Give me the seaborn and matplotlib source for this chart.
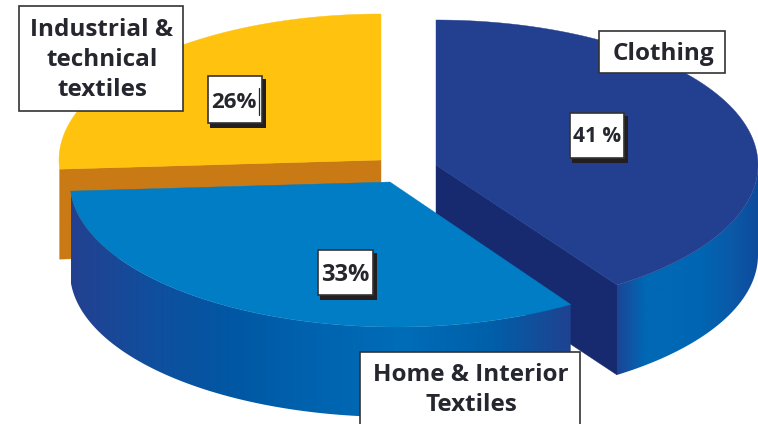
import numpy as np
import matplotlib
matplotlib.use("Agg")
import matplotlib.pyplot as plt
from matplotlib.patches import Polygon, Rectangle
import seaborn as sns

# shares, clockwise from 12 o'clock
categories = ["Clothing", "Home & Interior\nTextiles", "Industrial &\ntechnical\ntextiles"]
shares = [41, 33, 26]
pct_labels = ["41 %", "33%", "26%"]

sns.set_theme(style="white")
plt.rcParams["font.family"] = ["Open Sans", "DejaVu Sans"]

TEXT = "#26262e"
DEPTH = 90

# slice geometry in pixels: apex, ellipse centre, radii
geom = {
    "Clothing": dict(apex=(436, 165), c=(436, 165), rx=322, ry=145),
    "Home": dict(apex=(390, 182), c=(396, 182), rx=326, ry=145),
    "Industrial": dict(apex=(381, 160), c=(381, 160), rx=322, ry=146),
}

edges = np.cumsum([0] + shares) / sum(shares) * 2 * np.pi
# the drawing's perspective pulls the clothing edge back a little
clothing_end = edges[1] - np.radians(1.8)


def rim(g, t0, t1, n=200):
    t = np.linspace(t0, t1, n)
    return np.c_[g["c"][0] + g["rx"] * np.sin(t), g["c"][1] - g["ry"] * np.cos(t)]


def top(ax, g, t0, t1, color, z):
    pts = np.vstack([[g["apex"]], rim(g, t0, t1)])
    ax.add_patch(Polygon(pts, closed=True, fc=color, ec=color, lw=0.3, zorder=z))


def wall(ax, g, t0, t1, colors, z):
    r = rim(g, t0, t1)
    pts = np.vstack([r, (r + [0, DEPTH])[::-1]])
    patch = Polygon(pts, closed=True, fc="none", ec="none", zorder=z)
    ax.add_patch(patch)
    cmap = sns.blend_palette(colors, as_cmap=True)
    im = ax.imshow(np.linspace(0, 1, 256)[None, :], cmap=cmap, aspect="auto", zorder=z,
                   extent=(r[:, 0].min(), r[:, 0].max(), 424, 0), interpolation="bilinear")
    im.set_clip_path(patch)


def face(ax, g, t, color, z):
    p = rim(g, t, t, 1)[0]
    a = g["apex"]
    pts = [a, p, (p[0], p[1] + DEPTH), (a[0], a[1] + DEPTH)]
    ax.add_patch(Polygon(pts, closed=True, fc=color, ec=color, lw=0.3, zorder=z))


fig = plt.figure(figsize=(7.58, 4.24), dpi=100)
ax = fig.add_axes([0, 0, 1, 1])

# Industrial, furthest back
g = geom["Industrial"]
face(ax, g, edges[2], "#c97a15", 1)
top(ax, g, edges[2], edges[3], "#ffc20e", 2)

# Clothing
g = geom["Clothing"]
face(ax, g, clothing_end, "#172a70", 3)
wall(ax, g, np.pi / 2, clothing_end,
     ["#1b4595", "#0068b5", "#0068b5", "#0065b2", "#0a5aa8", "#0f4a9c"], 3)
top(ax, g, edges[0], clothing_end, "#233f8f", 4)

# Home, in front
g = geom["Home"]
wall(ax, g, edges[1], edges[2],
     ["#244090", "#0f4f9e", "#0058a4", "#0064b0", "#006cb8", "#0060aa", "#1f4290"], 5)
top(ax, g, edges[1], edges[2], "#007dc5", 6)


def box(x0, y0, x1, y1, shadow=False):
    if shadow:
        ax.add_patch(Rectangle((x0 + 2, y0 + 3), x1 - x0 + 2, y1 - y0 + 2, fc="#231f20", ec="none", zorder=8))
    ax.add_patch(Rectangle((x0, y0), x1 - x0, y1 - y0, fc="white", ec="#333333", lw=1.2, zorder=9))


# name labels
box(19, 6, 183, 111)
ax.text(102, 60, categories[2], ha="center", va="center", fontsize=17.5, fontweight="bold",
        color=TEXT, linespacing=1.33, zorder=10)
box(599, 31, 725, 73)
ax.text(663, 54, categories[0], ha="center", va="center", fontsize=17.5, fontweight="bold",
        color=TEXT, zorder=10)
box(360, 352, 580, 440)
ax.text(471, 390, categories[1], ha="center", va="center", fontsize=17.5, fontweight="bold",
        color=TEXT, linespacing=1.33, zorder=10)

# percentage labels
box(570, 113, 624, 158, True)
ax.text(597, 137, pct_labels[0], ha="center", va="center", fontsize=15, fontweight="bold", color=TEXT, zorder=10)
box(318, 250, 373, 295, True)
ax.text(345, 275, pct_labels[1], ha="center", va="center", fontsize=17, fontweight="bold", color=TEXT, zorder=10)
box(208, 76, 262, 123, True)
ax.text(234, 102, pct_labels[2], ha="center", va="center", fontsize=16, fontweight="bold", color=TEXT, zorder=10)
ax.plot([259, 259], [88, 115], color=TEXT, lw=0.9, zorder=10)

ax.set_xlim(0, 758)
ax.set_ylim(424, 0)
ax.axis("off")
fig.savefig("out.png", dpi=100)
